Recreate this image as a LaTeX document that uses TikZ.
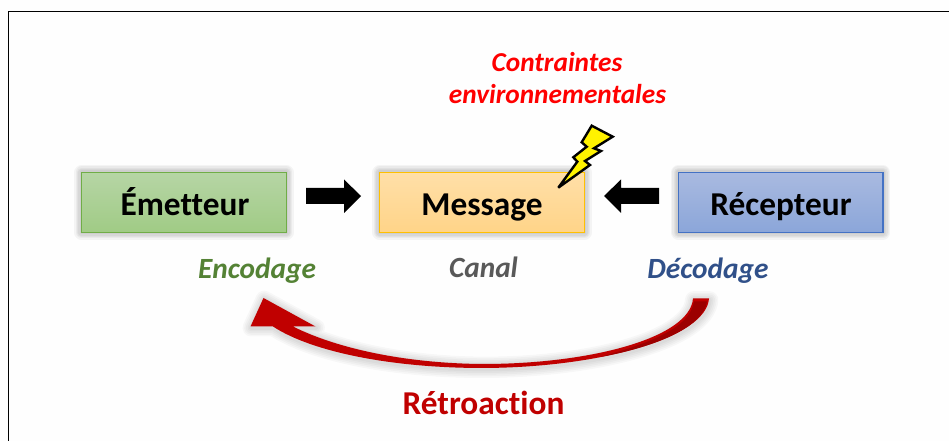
\documentclass[tikz,border=0pt]{standalone}
\usepackage{fontspec}
\setmainfont[Ligatures=NoCommon]{Carlito}
\usetikzlibrary{backgrounds}
\definecolor{grnT}{HTML}{B6D5A5}
\definecolor{grnB}{HTML}{A0CB85}
\definecolor{grnL}{HTML}{70AD47}
\definecolor{orgT}{HTML}{FFDFA8}
\definecolor{orgB}{HTML}{FFD488}
\definecolor{orgL}{HTML}{FFC000}
\definecolor{bluT}{HTML}{A9BAE0}
\definecolor{bluB}{HTML}{8BA6D9}
\definecolor{bluL}{HTML}{4472C4}
\definecolor{retro}{HTML}{C00000}
\definecolor{retroD}{HTML}{9C0000}
\tikzset{
  mainbox/.style={rectangle,minimum width=153.5pt,minimum height=45pt,inner sep=0pt,line width=1pt,outer sep=0pt},
  boxtext/.style={font=\fontsize{25}{29}\selectfont\bfseries,text=black,inner sep=0pt,anchor=base},
  sublabel/.style={font=\fontsize{22}{26}\selectfont\bfseries\itshape,inner sep=0pt,anchor=base},
  toplabel/.style={font=\fontsize{20.5}{24}\selectfont\bfseries\itshape,inner sep=0pt,text=red,anchor=base},
  blockarrow/.style={fill=black,draw=none},
  softshadow/.style={draw=black,opacity=0.04,line join=round,fill=none},
  retroshadow/.style={draw=black,opacity=0.028,line join=round,fill=none},
}
\newcommand{\retropath}{(693,298.5) -- (709,298.5) .. controls (706,338) and (600,367.5) .. (483,368)
  .. controls (392,368) and (312,352) .. (273,326.5) -- (250.5,326.5) -- (263.5,298) -- (315.5,326.5) -- (293,326.5)
  .. controls (340,350) and (410,363.5) .. (483,364) .. controls (590,364) and (690,338) .. (693,298.5) -- cycle}
\begin{document}
\begin{tikzpicture}[x=0.75pt,y=-0.75pt]
\useasboundingbox (0,0) rectangle (949,441);
\node[mainbox,draw=grnL,top color=grnT,bottom color=grnB] (em) at (184,202.5) {};
\node[mainbox,draw=orgL,top color=orgT,bottom color=orgB] (me) at (482,202.5) {};
\node[mainbox,draw=bluL,top color=bluT,bottom color=bluB] (re) at (780.5,202.5) {};
\node[boxtext] (emt) at (185,215.5) {Émetteur};
\node[boxtext] (met) at (482,215.5) {Message};
\node[boxtext] (ret) at (781,215.5) {Récepteur};
\begin{scope}[on background layer]
  \fill[white!99.5!black] (0,0) rectangle (949,441);
  \foreach \n in {em,me,re}{
    \foreach \w in {11,9,7,5,3}{
      \draw[softshadow,line width=\w pt] (\n.south west) rectangle (\n.north east);
    }
  }
  \foreach \w in {13,10.5,8,5.5,3}{
    \draw[retroshadow,line width=\w pt,transform canvas={shift={(0.5pt,-1pt)}}] \retropath;
  }
\end{scope}
% frame
\draw[black,line width=1.4pt] (8.5,441) -- (8.5,11.5) -- (949,11.5);
% block arrows
\fill[blockarrow] (306,188) -- (344,188) -- (344,179.5) -- (361,196) -- (344,213) -- (344,204) -- (306,204) -- cycle;
\fill[blockarrow] (659,188) -- (621,188) -- (621,179.5) -- (604,196) -- (621,213) -- (621,204) -- (659,204) -- cycle;
% feedback arrow
\fill[retro] \retropath;
\fill[retroD] (694,301.5) -- (707,301.5) .. controls (703,326) and (660,346) .. (600,357)
  .. controls (650,343) and (690,328) .. (694,301.5) -- cycle;
% lightning
\draw[black,fill=yellow,line width=1.8pt,line join=miter,miter limit=6]
  (591.7,125.7) -- (612.7,136.7) -- (594,148.3) -- (601,151) -- (585,161) -- (590,165) -- (558.3,187.7)
  -- (577.3,161.7) -- (573.3,157.3) -- (586.7,146.7) -- (581.7,142.3) -- cycle;
% labels
\node[sublabel,text=grnL!75!black] (enc) at (257,278.5) {Encodage};
\node[sublabel,text=black!65] (can) at (483.5,278) {Canal};
\node[sublabel,text=bluL!70!black] (dec) at (708,278.5) {Décodage};
\node[toplabel] (c1) at (557,71.5) {Contraintes};
\node[toplabel] (c2) at (557.5,103.5) {environnementales};
\node[boxtext,text=retro] (rt) at (483.5,414.5) {Rétroaction};
\end{tikzpicture}
\end{document}
